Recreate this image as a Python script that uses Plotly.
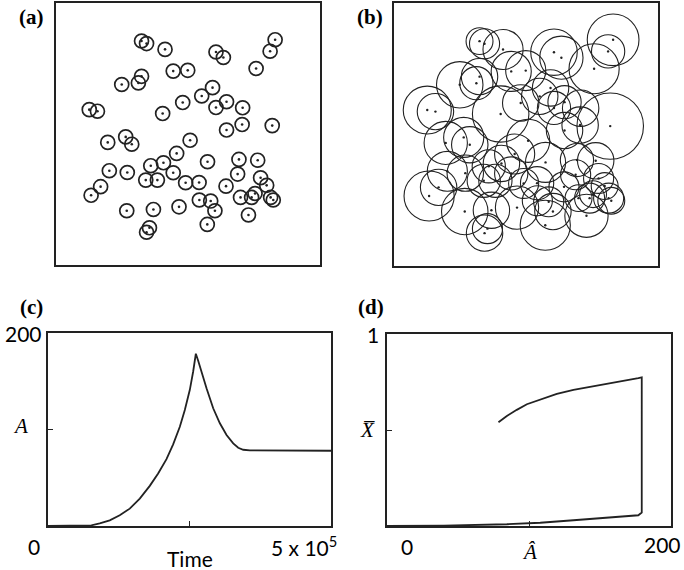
import plotly.graph_objects as go

# ---------------- data ----------------
# circle centres (same centres in panels a and b), 0-100 scale
cx = [32.4, 34.3, 41.3, 60.6, 63.4, 83.0, 81.1, 75.8, 44.4, 49.9, 32.4, 31.2, 24.9,
      59.3, 55.2, 48.0, 64.6, 60.6, 70.7, 12.6, 15.7, 40.4, 70.5, 64.6, 81.9, 26.4,
      28.7, 19.6, 50.8, 45.7, 40.7, 35.9, 57.4, 69.3, 76.4, 20.2, 27.0, 44.4, 34.0,
      38.4, 49.1, 54.2, 68.8, 64.4, 77.5, 79.8, 16.9, 13.3, 54.3, 58.6, 60.2, 69.9,
      74.1, 75.4, 81.3, 82.3, 26.8, 36.9, 46.6, 72.9, 57.3, 35.4, 34.3]
cy = [85.5, 84.5, 82.3, 81.3, 79.2, 86.0, 81.6, 75.0, 74.0, 74.3, 72.0, 69.5, 68.9,
      67.7, 64.5, 62.0, 62.3, 60.1, 60.0, 59.3, 58.7, 57.8, 53.6, 51.5, 53.2, 48.9,
      46.1, 46.8, 47.6, 42.6, 39.0, 37.9, 39.4, 40.3, 40.0, 36.0, 35.3, 35.2, 32.4,
      32.4, 31.4, 31.5, 34.7, 30.1, 33.3, 30.4, 29.9, 26.6, 24.8, 24.4, 20.7, 25.8,
      25.8, 27.3, 25.8, 24.8, 20.7, 21.2, 22.2, 19.1, 15.5, 14.2, 12.5]
# radius in panel (a)
radius_a = 2.65
# radii in panel (b)
radius_b = [5.1, 5.7, 7.6, 8.8, 8.2, 9.8, 6.3, 9.5, 7.6, 7.6, 6.9, 6.3, 8.8,
            6.9, 6.9, 6.9, 6.3, 6.3, 6.9, 9.1, 6.9, 10.7, 6.9, 6.9, 12.6, 7.6,
            6.9, 8.2, 8.2, 7.6, 6.9, 6.3, 7.6, 6.3, 6.9, 7.6, 6.9, 6.3, 6.3,
            6.3, 5.7, 6.3, 5.7, 5.7, 5.7, 5.1, 6.9, 9.5, 5.7, 5.7, 6.9, 5.1,
            5.7, 5.1, 5.7, 5.1, 8.8, 6.9, 8.2, 8.2, 9.5, 5.7, 6.9]

# panel (c): A over time
time_c = [0, 60000, 76650, 91390, 109080, 126770, 144460, 162150, 179830, 194580,
          209320, 221110, 232900, 241740, 250590, 256490, 261200, 265330, 271230,
          280070, 291860, 303650, 315450, 327240, 336080, 344930, 356720, 500000]
A_c = [0, 0, 0.7, 2.8, 5.9, 11.1, 18.0, 28.4, 41.6, 54.4, 69.3, 84.6, 102.9, 120.3,
       141.1, 160.1, 178.5, 171.2, 159.4, 142.8, 122.0, 106.4, 94.3, 85.6, 81.1,
       79.0, 78.3, 78.0]

# panel (d): mean X vs A-hat
Ahat_d = [0, 40, 84.4, 107.9, 131.3, 154.7, 177.0, 179.4, 179.4, 177.0, 166.5,
          154.7, 143.0, 131.3, 119.6, 107.9, 98.5, 91.4, 84.4, 78.5]
Xbar_d = [0, 0.002, 0.009, 0.017, 0.030, 0.042, 0.056, 0.070, 0.774, 0.770, 0.756,
          0.740, 0.726, 0.709, 0.688, 0.660, 0.634, 0.605, 0.573, 0.540]

panel_labels = ["(a)", "(b)", "(c)", "(d)"]
c_xtick_labels = ["0", "5 x 10<sup>5</sup>"]
c_ytick_labels = ["200"]
d_xtick_labels = ["0", "200"]
d_ytick_labels = ["1"]

# ---------------- figure ----------------
W, H = 684, 570
INK = "#222222"
fig = go.Figure()

def px_x(a, b):
    return [a / W, b / W]

def px_y(top, bottom):
    return [1 - bottom / H, 1 - top / H]

def frame(dom, rng, width=1.6, tickvals=None):
    return dict(domain=dom, range=rng, showgrid=False, zeroline=False,
                showline=True, mirror=True, linecolor=INK, linewidth=width,
                ticks="inside" if tickvals else "", tickvals=tickvals or [],
                ticklen=5, tickcolor=INK, tickwidth=1.2,
                showticklabels=False, fixedrange=True)

fig.update_layout(
    width=W, height=H, margin=dict(l=0, r=0, t=0, b=0),
    paper_bgcolor="white", plot_bgcolor="white", showlegend=False,
    xaxis=dict(frame(px_x(56, 320), [0, 100]), anchor="y"),
    yaxis=dict(frame(px_y(3, 265), [0, 100]), anchor="x"),
    xaxis2=dict(frame(px_x(394, 658), [0, 100]), anchor="y2"),
    yaxis2=dict(frame(px_y(3, 266), [0, 100]), anchor="x2"),
    xaxis3=dict(frame(px_x(48, 331), [0, 500000], 2, [250000]), anchor="y3"),
    yaxis3=dict(frame(px_y(333, 526), [0, 200], 2, [100]), anchor="x3"),
    xaxis4=dict(frame(px_x(387, 671), [0, 200], 2, [100]), anchor="y4"),
    yaxis4=dict(frame(px_y(334, 526), [0, 1], 2, [0.5]), anchor="x4"),
)

shapes = []
for x, y in zip(cx, cy):
    shapes.append(dict(type="circle", xref="x", yref="y",
                       x0=x - radius_a, x1=x + radius_a,
                       y0=y - radius_a, y1=y + radius_a,
                       line=dict(color=INK, width=1.7)))
for x, y, r in zip(cx, cy, radius_b):
    shapes.append(dict(type="circle", xref="x2", yref="y2",
                       x0=x - r, x1=x + r, y0=y - r, y1=y + r,
                       line=dict(color=INK, width=1.1)))
fig.update_layout(shapes=shapes)

# centre dots
fig.add_trace(go.Scatter(x=cx, y=cy, mode="markers", xaxis="x", yaxis="y",
                         marker=dict(size=2.6, color=INK), hoverinfo="skip"))
fig.add_trace(go.Scatter(x=cx, y=cy, mode="markers", xaxis="x2", yaxis="y2",
                         marker=dict(size=2.4, color=INK), hoverinfo="skip"))

# curves
fig.add_trace(go.Scatter(x=time_c, y=A_c, mode="lines", xaxis="x3", yaxis="y3",
                         line=dict(color=INK, width=1.8), hoverinfo="skip"))
fig.add_trace(go.Scatter(x=Ahat_d, y=Xbar_d, mode="lines", xaxis="x4", yaxis="y4",
                         line=dict(color=INK, width=1.8), hoverinfo="skip"))

SANS = "Lato"
SERIF = "Liberation Serif"
ann = []
# panel letters
for lab, (x, y) in zip(panel_labels, [(31, 17), (370, 17), (31, 307), (371, 307)]):
    ann.append(dict(text="<b>%s</b>" % lab, x=x / W, y=1 - y / H, xref="paper", yref="paper",
                    showarrow=False, font=dict(family=SERIF, size=21, color="black"),
                    xanchor="center", yanchor="middle"))

num_font = dict(family=SANS, size=21, color="black")
# panel (c) labels
ann.append(dict(text=c_ytick_labels[0], x=0, y=200, xref="x3", yref="y3", showarrow=False,
                font=num_font, xanchor="right", yanchor="middle", xshift=-4))
ann.append(dict(text=c_xtick_labels[0], x=0, y=0, xref="x3", yref="y3", showarrow=False,
                font=num_font, xanchor="right", yanchor="top", xshift=-6, yshift=-6))
ann.append(dict(text=c_xtick_labels[1], x=500000, y=0, xref="x3", yref="y3", showarrow=False,
                font=num_font, xanchor="right", yanchor="top", xshift=8, yshift=-4))
ann.append(dict(text="Time", x=250000, y=0, xref="x3", yref="y3", showarrow=False,
                font=num_font, xanchor="center", yanchor="top", yshift=-18))
ann.append(dict(text="<i>A</i>", x=0, y=100, xref="x3", yref="y3", showarrow=False,
                font=dict(family=SERIF, size=21, color="black"),
                xanchor="right", yanchor="middle", xshift=-18, yshift=4))
# panel (d) labels
ann.append(dict(text=d_ytick_labels[0], x=0, y=1, xref="x4", yref="y4", showarrow=False,
                font=num_font, xanchor="right", yanchor="middle", xshift=-6))
ann.append(dict(text=d_xtick_labels[0], x=0, y=0, xref="x4", yref="y4", showarrow=False,
                font=num_font, xanchor="right", yanchor="top", xshift=28, yshift=-6))
ann.append(dict(text=d_xtick_labels[1], x=200, y=0, xref="x4", yref="y4", showarrow=False,
                font=num_font, xanchor="right", yanchor="top", xshift=12, yshift=-4))
ann.append(dict(text="<i>Â</i>", x=100, y=0, xref="x4", yref="y4", showarrow=False,
                font=dict(family=SERIF, size=21, color="black"),
                xanchor="center", yanchor="top", yshift=-12))
ann.append(dict(text="<i>X\u0305</i>", x=0, y=0.5, xref="x4", yref="y4", showarrow=False,
                font=dict(family=SERIF, size=21, color="black"),
                xanchor="right", yanchor="middle", xshift=-10))
fig.update_layout(annotations=ann)

fig.write_html("out.html", config={"displayModeBar": False},
               post_script="document.body.style.margin='0';")
